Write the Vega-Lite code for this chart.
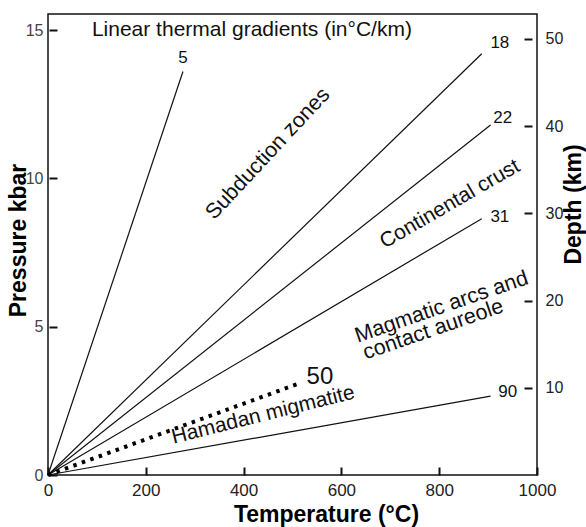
{
  "$schema": "https://vega.github.io/schema/vega-lite/v6.json",
  "width": 489,
  "height": 461,
  "autosize": {"type": "none"},
  "padding": {"left": 48, "top": 14, "right": 49, "bottom": 52},
  "background": "white",
  "config": {
    "view": {"stroke": "#111", "strokeWidth": 1.5},
    "font": "Liberation Sans",
    "axis": {"labelFont": "Liberation Sans", "titleFont": "Liberation Sans", "grid": false}
  },
  "datasets": {
    "lines": [
      {"g": "5", "T": 0, "P": 0}, {"g": "5", "T": 276, "P": 13.6},
      {"g": "18", "T": 0, "P": 0}, {"g": "18", "T": 887, "P": 14.2},
      {"g": "22", "T": 0, "P": 0}, {"g": "22", "T": 905, "P": 11.8},
      {"g": "31", "T": 0, "P": 0}, {"g": "31", "T": 887, "P": 8.64},
      {"g": "90", "T": 0, "P": 0}, {"g": "90", "T": 905, "P": 2.66}
    ],
    "migmatite": [{"g": "50", "T": 0, "P": 0}, {"g": "50", "T": 509, "P": 3.06}],
    "gradLabels": [
      {"label": "5", "T": 276, "P": 14.05},
      {"label": "18", "T": 924, "P": 14.56},
      {"label": "22", "T": 930, "P": 12.03},
      {"label": "31", "T": 924, "P": 8.7},
      {"label": "90", "T": 940, "P": 2.8}
    ],
    "migLabel": [{"label": "50", "T": 556, "P": 3.31}],
    "heading": [{"label": "Linear thermal gradients (in°C/km)", "T": 417, "P": 15.0}],
    "subduction": [{"label": "Subduction  zones", "T": 450, "P": 10.82}],
    "continental": [{"label": "Continental   crust", "T": 822, "P": 9.13}],
    "magmatic": [
      {"label": "Magmatic arcs and", "T": 805, "P": 5.65},
      {"label": "contact aureole", "T": 788, "P": 4.89}
    ],
    "hamadan": [{"label": "Hamadan migmatite", "T": 440, "P": 2.02}],
    "depth": [{"D": 0}, {"D": 52.84}]
  },
  "layer": [
    {
      "encoding": {
        "x": {
          "field": "T", "type": "quantitative",
          "scale": {"domain": [0, 1000], "nice": false, "zero": false},
          "axis": {
            "values": [0, 200, 400, 600, 800, 1000],
            "format": "d",
            "title": "Temperature (°C)",
            "offset": -8, "domain": false,
            "tickSize": 8, "tickWidth": 2, "tickColor": "#111",
            "labelFontSize": 17, "labelColor": "#222", "labelPadding": 7, "labelFlush": false,
            "titleFontSize": 23, "titleFontWeight": "bold", "titleColor": "#000",
            "titleX": 278, "titleY": 54, "titleAlign": "center", "titleBaseline": "alphabetic"
          }
        },
        "y": {
          "field": "P", "type": "quantitative",
          "scale": {"domain": [0, 15.54], "nice": false, "zero": false},
          "axis": {
            "orient": "left",
            "values": [0, 5, 10, 15],
            "title": "Pressure  kbar",
            "offset": -9, "domain": false,
            "tickSize": 8, "tickWidth": 2, "tickColor": "#111",
            "labelFontSize": 16, "labelColor": "#444", "labelPadding": 6,
            "titleFontSize": 23, "titleFontWeight": "bold", "titleColor": "#000",
            "titleX": -39, "titleY": 226, "titleAngle": 270, "titleAlign": "center", "titleBaseline": "middle"
          }
        }
      },
      "layer": [
        {
          "mark": {"type": "rule", "color": "#888", "strokeWidth": 2.2},
          "encoding": {"x": {"datum": 0}, "y": null}
        },
        {
          "data": {"name": "lines"},
          "mark": {"type": "line", "color": "#111", "strokeWidth": 1.2},
          "encoding": {"detail": {"field": "g"}}
        },
        {
          "data": {"name": "migmatite"},
          "mark": {"type": "line", "color": "#000", "strokeWidth": 4, "strokeDash": [3.5, 5.5], "strokeCap": "butt"},
          "encoding": {"detail": {"field": "g"}}
        },
        {
          "data": {"name": "gradLabels"},
          "mark": {"type": "text", "fontSize": 17, "align": "center", "baseline": "middle", "color": "#111"},
          "encoding": {"text": {"field": "label"}}
        },
        {
          "data": {"name": "migLabel"},
          "mark": {"type": "text", "fontSize": 24, "align": "center", "baseline": "middle", "color": "#111"},
          "encoding": {"text": {"field": "label"}}
        },
        {
          "data": {"name": "heading"},
          "mark": {"type": "text", "fontSize": 21, "align": "center", "baseline": "middle", "color": "#111"},
          "encoding": {"text": {"field": "label"}}
        },
        {
          "data": {"name": "subduction"},
          "mark": {"type": "text", "fontSize": 21.5, "angle": -47, "align": "center", "baseline": "middle", "color": "#111"},
          "encoding": {"text": {"field": "label"}}
        },
        {
          "data": {"name": "continental"},
          "mark": {"type": "text", "fontSize": 21, "angle": -30, "align": "center", "baseline": "middle", "color": "#111"},
          "encoding": {"text": {"field": "label"}}
        },
        {
          "data": {"name": "magmatic"},
          "mark": {"type": "text", "fontSize": 21.5, "angle": -19, "align": "center", "baseline": "middle", "color": "#111"},
          "encoding": {"text": {"field": "label"}}
        },
        {
          "data": {"name": "hamadan"},
          "mark": {"type": "text", "fontSize": 21, "angle": -14, "align": "center", "baseline": "middle", "color": "#111"},
          "encoding": {"text": {"field": "label"}}
        }
      ]
    },
    {
      "data": {"name": "depth"},
      "mark": {"type": "point", "opacity": 0},
      "encoding": {
        "y": {
          "field": "D", "type": "quantitative",
          "scale": {"domain": [0, 52.84], "nice": false, "zero": false},
          "axis": {
            "orient": "right",
            "values": [10, 20, 30, 40, 50],
            "title": "Depth (km)",
            "offset": -13, "domain": false,
            "tickSize": 8, "tickWidth": 2, "tickColor": "#111",
            "labelFontSize": 16, "labelColor": "#222", "labelPadding": 13,
            "titleFontSize": 23, "titleFontWeight": "bold", "titleColor": "#000",
            "titleX": 49, "titleY": 190, "titleAngle": 270, "titleAlign": "center", "titleBaseline": "middle"
          }
        }
      }
    }
  ],
  "resolve": {"scale": {"y": "independent"}, "axis": {"y": "independent"}}
}
